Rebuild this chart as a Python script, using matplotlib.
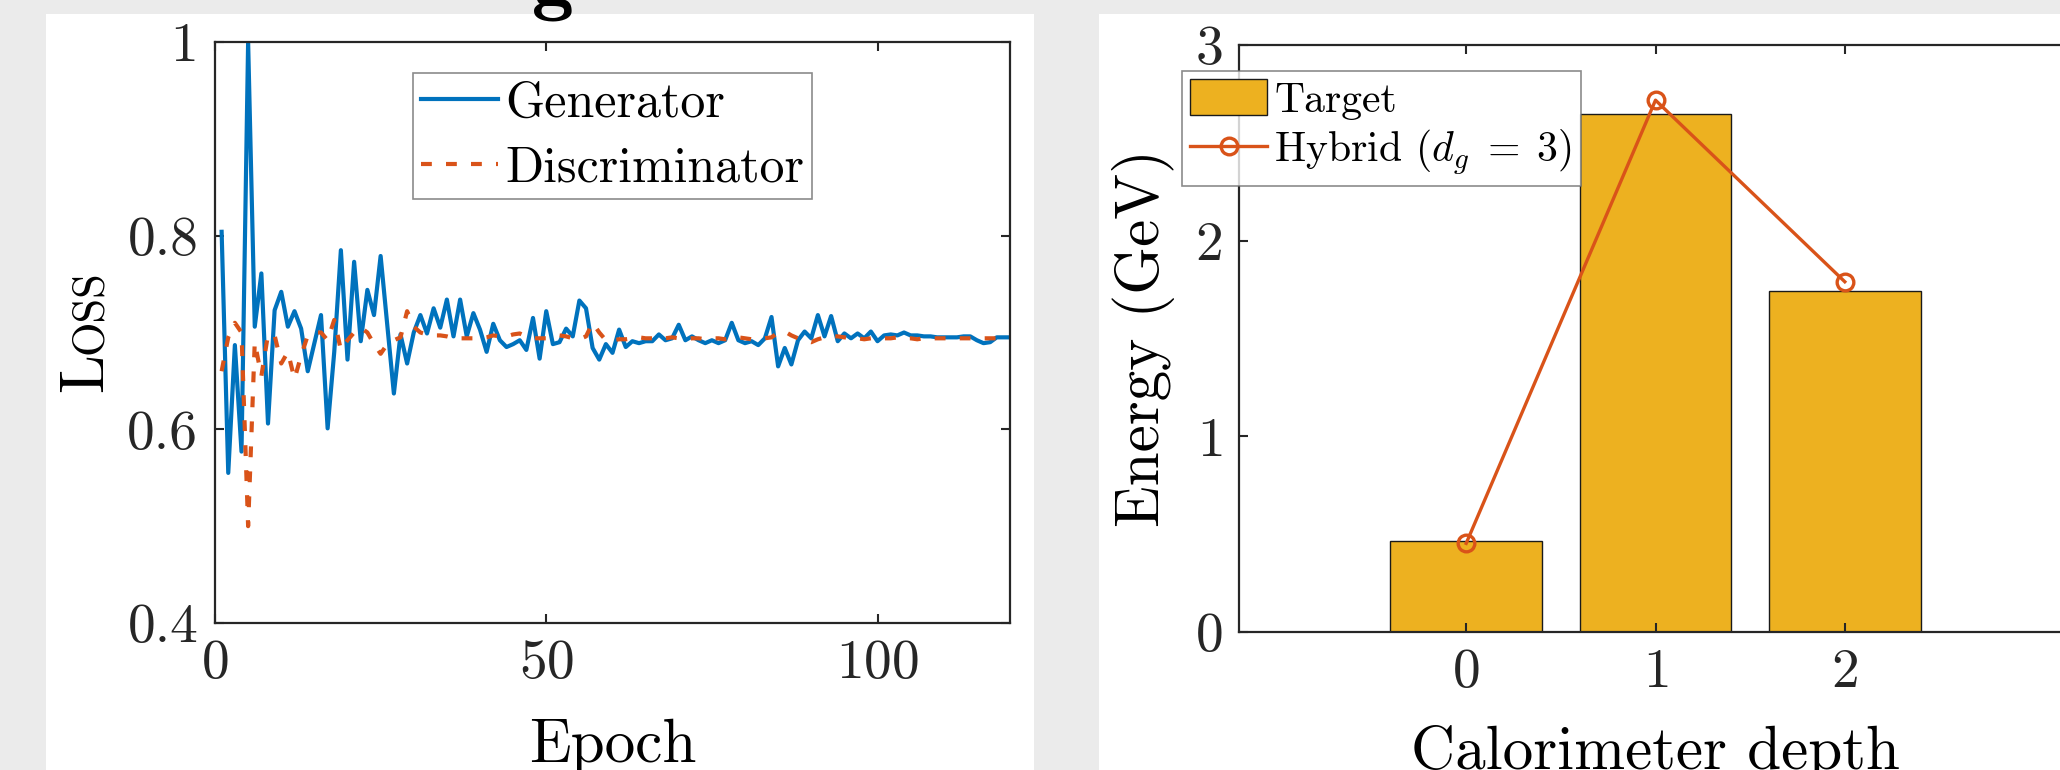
import numpy as np
import matplotlib
matplotlib.use("Agg")
import matplotlib.pyplot as plt
from matplotlib.patches import Rectangle

plt.rcParams['font.family'] = 'serif'
plt.rcParams['font.serif'] = ['cmr10']
plt.rcParams['mathtext.fontset'] = 'cm'
plt.rcParams['axes.formatter.use_mathtext'] = True

# left panel: training losses
epochs = np.arange(1, 121)
gen_loss = [0.804, 0.555, 0.687, 0.577, 1.000, 0.706, 0.761, 0.606, 0.723, 0.742,
            0.706, 0.722, 0.704, 0.660, 0.689, 0.718, 0.601, 0.680, 0.785, 0.672,
            0.773, 0.691, 0.744, 0.718, 0.779, 0.708, 0.637, 0.698, 0.668, 0.700,
            0.718, 0.699, 0.725, 0.705, 0.734, 0.696, 0.734, 0.696, 0.720, 0.703,
            0.680, 0.709, 0.692, 0.685, 0.688, 0.692, 0.682, 0.715, 0.673, 0.722,
            0.688, 0.690, 0.704, 0.696, 0.733, 0.725, 0.684, 0.672, 0.688, 0.679,
            0.703, 0.685, 0.691, 0.689, 0.691, 0.691, 0.698, 0.692, 0.694, 0.708,
            0.692, 0.696, 0.692, 0.689, 0.692, 0.689, 0.692, 0.710, 0.692, 0.689,
            0.691, 0.687, 0.694, 0.716, 0.665, 0.684, 0.667, 0.692, 0.701, 0.694,
            0.718, 0.696, 0.717, 0.691, 0.699, 0.694, 0.699, 0.694, 0.701, 0.691,
            0.697, 0.698, 0.697, 0.700, 0.697, 0.697, 0.696, 0.696, 0.695, 0.695,
            0.695, 0.695, 0.696, 0.696, 0.692, 0.689, 0.690, 0.695, 0.695, 0.695]
disc_loss = [0.660, 0.695, 0.710, 0.700, 0.500, 0.690, 0.655, 0.698, 0.697, 0.668,
             0.680, 0.652, 0.676, 0.697, 0.700, 0.700, 0.692, 0.713, 0.682, 0.692,
             0.700, 0.705, 0.700, 0.688, 0.678, 0.688, 0.692, 0.695, 0.722, 0.706,
             0.700, 0.698, 0.697, 0.697, 0.696, 0.694, 0.694, 0.694, 0.694, 0.694,
             0.695, 0.697, 0.696, 0.696, 0.698, 0.699, 0.696, 0.694, 0.694, 0.694,
             0.695, 0.697, 0.696, 0.694, 0.693, 0.696, 0.710, 0.700, 0.692, 0.692,
             0.693, 0.693, 0.694, 0.695, 0.694, 0.694, 0.693, 0.694, 0.695, 0.694,
             0.693, 0.694, 0.694, 0.693, 0.694, 0.694, 0.693, 0.694, 0.695, 0.694,
             0.693, 0.694, 0.694, 0.695, 0.700, 0.701, 0.697, 0.694, 0.692, 0.690,
             0.693, 0.695, 0.696, 0.696, 0.695, 0.694, 0.694, 0.693, 0.694, 0.694,
             0.694, 0.694, 0.695, 0.694, 0.694, 0.693, 0.694, 0.694, 0.694, 0.694,
             0.694, 0.694, 0.694, 0.694, 0.694, 0.694, 0.694, 0.694, 0.694, 0.694]
loss_yticks = [0.4, 0.6, 0.8, 1.0]
loss_yticklabels = ['0.4', '0.6', '0.8', '1']
epoch_xticks = [0, 50, 100]

# right panel: energy per depth
depth = [0, 1, 2]
target_energy = [0.467, 2.645, 1.742]
hybrid_energy = [0.453, 2.718, 1.790]

blue = '#0072BD'
orange = '#D95319'
yellow = '#EDB120'
axcol = '#262626'

W, H = 2060, 770
fig = plt.figure(figsize=(W / 100, H / 100), dpi=100, facecolor='#ebebeb')

# white panels behind each subplot
fig.patches.append(Rectangle((46 / W, 0), (1034 - 46) / W, 1 - 14 / H,
                             transform=fig.transFigure, facecolor='white',
                             edgecolor='none', zorder=-10))
fig.patches.append(Rectangle((1099 / W, 0), (W - 1099) / W, 1 - 14 / H,
                             transform=fig.transFigure, facecolor='white',
                             edgecolor='none', zorder=-10))

# descender of the caption line cut off above the figure
fig.text(553 / W, 1 - 5 / H, 'g', family='cmb10', fontsize=60,
         ha='center', va='baseline')


def style_axes(ax):
    for s in ax.spines.values():
        s.set_color(axcol)
        s.set_linewidth(1.6)
    ax.tick_params(direction='in', length=6.5, width=1.5, colors=axcol,
                   top=True, right=True, labelsize=40, pad=12)


# ---- left ----
ax1 = fig.add_axes([215 / W, 1 - 623 / H, (1010 - 215) / W, (623 - 42) / H])
ax1.plot(epochs, gen_loss, color=blue, lw=3.0, label='Generator')
ax1.plot(epochs, disc_loss, color=orange, lw=3.0, dashes=(2.6, 3.4),
         label='Discriminator')
ax1.set_xlim(0, 120)
ax1.set_ylim(0.4, 1.0)
ax1.set_xticks(epoch_xticks)
ax1.set_yticks(loss_yticks)
ax1.set_yticklabels(loss_yticklabels)
style_axes(ax1)
ax1.set_xlabel('Epoch', fontsize=44, labelpad=21)
leg1 = ax1.legend(loc='upper left', bbox_to_anchor=(413 / W, 1 - 73 / H),
                  bbox_transform=fig.transFigure, borderaxespad=0,
                  fontsize=36, handlelength=1.55, handletextpad=0.15,
                  borderpad=0.15, labelspacing=0.38, fancybox=False)
leg1.get_frame().set_edgecolor('#6e6e6e')
leg1.get_frame().set_linewidth(1.2)

# small-caps "Loss"
fig.text(102 / W, 1 - 392 / H, 'L', fontsize=45, rotation=90,
         rotation_mode='anchor', ha='left', va='baseline')
fig.text(102 / W, 1 - 354 / H, 'OSS', fontsize=32, rotation=90,
         rotation_mode='anchor', ha='left', va='baseline')

# ---- right ----
ax2 = fig.add_axes([1239 / W, 1 - 632 / H, (2072 - 1239) / W, (632 - 45) / H])
bars = ax2.bar(depth, target_energy, width=0.8, color=yellow,
               edgecolor='#1a1a1a', linewidth=1.0)
line, = ax2.plot(depth, hybrid_energy, color=orange, lw=2.4, marker='o', ms=12,
                 mfc='none', mec=orange, mew=2.4)
ax2.set_xlim(-1.2, 3.2)
ax2.set_ylim(0, 3)
ax2.set_xticks(depth)
ax2.set_yticks([0, 1, 2, 3])
style_axes(ax2)
ax2.set_xlabel('Calorimeter depth', fontsize=44, labelpad=19)
ax2.set_ylabel('Energy (GeV)', fontsize=44, labelpad=14)
leg2 = ax2.legend([bars, line], ['Target', r'Hybrid $(d_g \;=\; 3)$'],
                  loc='upper left', bbox_to_anchor=(1182 / W, 1 - 71 / H),
                  bbox_transform=fig.transFigure, borderaxespad=0,
                  fontsize=30, handlelength=1.85, handleheight=0.95,
                  handletextpad=0.17, borderpad=0.2, labelspacing=0.2,
                  fancybox=False)
leg2.get_frame().set_edgecolor('#6e6e6e')
leg2.get_frame().set_linewidth(1.2)

fig.savefig('out.png', dpi=100, facecolor=fig.get_facecolor())
